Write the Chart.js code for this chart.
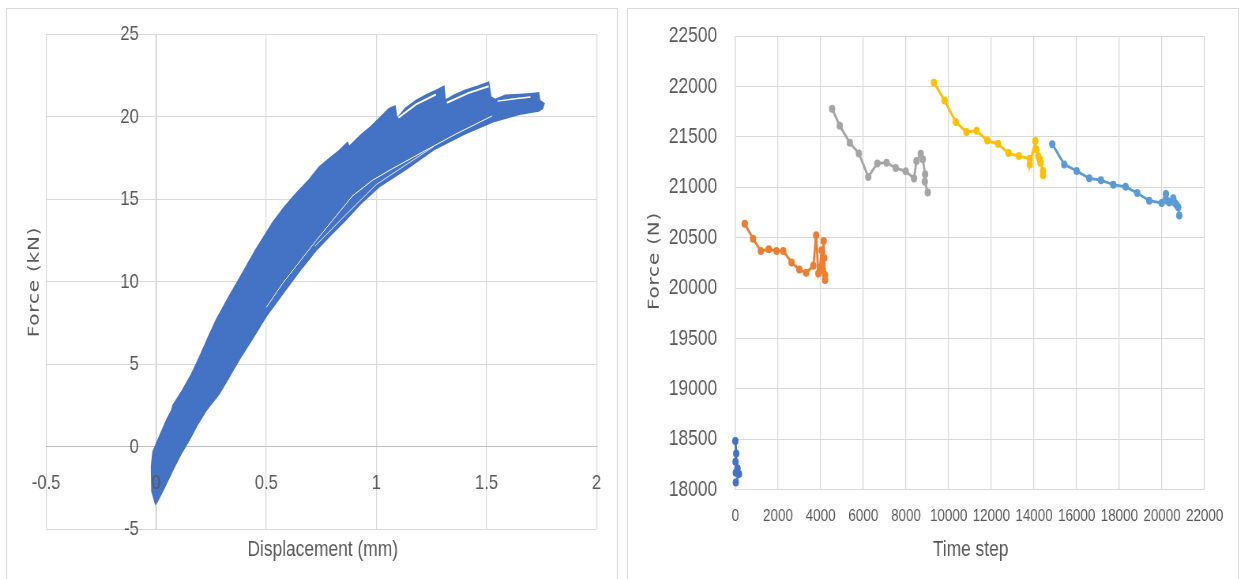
<!DOCTYPE html>
<html>
<head>
<meta charset="utf-8">
<script src="https://cdn.jsdelivr.net/npm/chart.js@4.4.1/dist/chart.umd.min.js"></script>
<style>
  html, body { margin: 0; padding: 0; background: #fff; width: 1239px; height: 579px; overflow: hidden; position: relative; }
  .panel { position: absolute; border: 1px solid #d9d9d9; box-sizing: border-box; }
  #panelLeft { left: 6px; top: 8px; width: 612px; height: 590px; }
  #panelRight { left: 627px; top: 8px; width: 612px; height: 590px; }
  /* both charts are laid out wide and squeezed horizontally */
  canvas { position: absolute; top: 0; transform-origin: 0 0; transform: scaleX(0.79); }
  #loadCurve { left: 0; }
  #peakForce { left: 620px; }
</style>
</head>
<body>
<div class="panel" id="panelLeft"></div>
<div class="panel" id="panelRight"></div>
<canvas id="loadCurve" width="785" height="579"></canvas>
<canvas id="peakForce" width="784" height="579"></canvas>
<script>
// ---- Left chart: cyclic force-displacement band (outline of all cycles) ----
const dispTicks = [-0.5, 0, 0.5, 1, 1.5, 2];
const forceKnTicks = [-5, 0, 5, 10, 15, 20, 25];

// outline of the overlapping loading cycles [displacement mm, force kN]
const bandOutline = [
  [-0.003, -3.5], [-0.02, -2.7], [-0.022, -1.2], [-0.015, -0.3], [0.02, 0.8],
  [0.05, 1.7], [0.07, 2.2], [0.075, 2.5], [0.12, 3.45], [0.16, 4.4],
  [0.197, 5.45], [0.235, 6.6], [0.273, 7.7], [0.33, 9.1], [0.378, 10.2],
  [0.45, 11.9], [0.529, 13.6], [0.58, 14.5], [0.635, 15.35], [0.695, 16.2],
  [0.74, 16.95], [0.78, 17.4], [0.831, 17.95], [0.869, 18.45], [0.876, 18.2],
  [0.93, 18.9], [0.975, 19.4], [1.02, 20.0], [1.057, 20.5], [1.085, 20.65],
  [1.093, 19.9], [1.13, 20.5], [1.18, 21.0], [1.23, 21.35], [1.27, 21.6],
  [1.307, 21.85], [1.313, 21.0], [1.35, 21.3], [1.40, 21.6], [1.46, 21.85],
  [1.51, 22.1], [1.52, 21.2], [1.54, 21.05], [1.586, 21.3], [1.65, 21.35],
  [1.70, 21.4], [1.737, 21.45], [1.742, 21.0], [1.762, 20.8], [1.755, 20.5],
  [1.737, 20.35], [1.65, 20.15], [1.53, 19.7], [1.40, 18.95], [1.26, 18.0],
  [1.133, 16.8], [1.012, 15.75], [0.93, 14.75], [0.861, 13.75], [0.79, 12.8],
  [0.726, 11.9], [0.66, 10.8], [0.59, 9.55], [0.499, 7.9], [0.44, 6.6],
  [0.378, 5.3], [0.33, 4.2], [0.288, 3.25], [0.227, 2.2], [0.19, 1.4],
  [0.152, 0.45], [0.11, -0.5], [0.076, -1.4], [0.04, -2.4], [0.01, -3.2],
  [-0.003, -3.5]
];

// thin gaps between neighbouring cycles
const gapLower = [[0.50, 8.45], [0.574, 9.9], [0.726, 12.5], [0.891, 15.2], [0.982, 16.15],
  [1.072, 16.85], [1.208, 17.85], [1.36, 18.95], [1.45, 19.55], [1.525, 20.05]];
const gapLowerInner = [[0.72, 12.15], [0.86, 14.05], [1.0, 15.9], [1.13, 17.05], [1.26, 18.2]];
const gapPeak2 = [[1.10, 19.95], [1.18, 20.75], [1.27, 21.35]];
const gapPeak3 = [[1.32, 20.85], [1.42, 21.45], [1.51, 21.85]];
const gapPeak4 = [[1.55, 20.95], [1.63, 21.1], [1.70, 21.2]];

// ---- Right chart: peak force per stage against time step ----
const stepTicks = [0, 2000, 4000, 6000, 8000, 10000, 12000, 14000, 16000, 18000, 20000, 22000];
const forceNTicks = [18000, 18500, 19000, 19500, 20000, 20500, 21000, 21500, 22000, 22500];

const stage1 = [[0, 18484], [40, 18360], [10, 18277], [100, 18212], [20, 18169], [170, 18156], [20, 18071]];
const stage2 = [[440, 20638], [830, 20490], [1195, 20369], [1570, 20386], [1930, 20369], [2245, 20369],
  [2635, 20254], [3000, 20185], [3315, 20153], [3655, 20221], [3785, 20524], [3890, 20146],
  [3960, 20200], [4045, 20376], [4095, 20180], [4140, 20467], [4165, 20300], [4205, 20130], [4205, 20081]];
const stage3 = [[4535, 21780], [4895, 21612], [5365, 21442], [5790, 21337], [6230, 21104], [6655, 21238],
  [7090, 21245], [7515, 21193], [7985, 21159], [8375, 21088], [8490, 21262], [8690, 21334],
  [8785, 21278], [8895, 21130], [8880, 21055], [9020, 20950]];
const stage4 = [[9310, 22039], [9810, 21862], [10330, 21649], [10830, 21550], [11310, 21563], [11810, 21464],
  [12310, 21432], [12800, 21340], [13290, 21311], [13800, 21284], [13800, 21228], [14060, 21459],
  [14110, 21376], [14200, 21310], [14270, 21278], [14300, 21245], [14420, 21163], [14420, 21120]];
const stage5 = [[14855, 21429], [15417, 21228], [15998, 21163], [16589, 21090], [17137, 21071], [17713, 21026],
  [18294, 21006], [18838, 20943], [19400, 20868], [19981, 20845], [20183, 20933], [20244, 20868],
  [20338, 20851], [20525, 20891], [20605, 20845], [20684, 20825], [20759, 20802], [20806, 20720]];

const seriesColors = ['#4472C4', '#ED7D31', '#A5A5A5', '#FFC000', '#5B9BD5'];

const SANS = "'Liberation Sans', Arial, sans-serif";
const TEXT = '#595959';
const GRID = '#d9d9d9';
const ZERO_LINE = '#bfbfbf';
const VLINE = 1 / 0.79;   // keeps vertical lines about one pixel wide after the squeeze

const toXY = pairs => pairs.map(p => ({ x: p[0], y: p[1] }));

// draws the axis titles at fixed spots around the plot area
const axisTitles = {
  id: 'axisTitles',
  afterDraw(chart, args, opts) {
    const ctx = chart.ctx;
    (opts.items || []).forEach(t => {
      ctx.save();
      ctx.font = t.font;
      ctx.fillStyle = TEXT;
      ctx.textAlign = 'center';
      ctx.textBaseline = 'middle';
      if ('letterSpacing' in ctx) ctx.letterSpacing = t.spacing || '0px';
      ctx.translate(t.x, t.y);
      if (t.rotate) ctx.rotate(t.rotate);
      ctx.fillText(t.text, 0, 0);
      ctx.restore();
    });
  }
};

const tickFont = size => ({ family: SANS, size: size });
const TITLE_FONT = "22px " + SANS;
const Y_TITLE_FONT = "20px 'DejaVu Sans', sans-serif";
const zeroAware = ctx => (ctx.tick && ctx.tick.value === 0 ? ZERO_LINE : GRID);

function gapLine(pairs, width) {
  return { data: toXY(pairs), borderColor: '#ffffff', borderWidth: width, pointRadius: 0, fill: false, order: 0 };
}

new Chart(document.getElementById('loadCurve'), {
  type: 'line',
  data: {
    datasets: [
      gapLine(gapLower, 1),
      gapLine(gapLowerInner, 0.8),
      gapLine(gapPeak2, 2),
      gapLine(gapPeak3, 2),
      gapLine(gapPeak4, 1.5),
      {
        data: toXY(bandOutline),
        borderColor: seriesColors[0],
        backgroundColor: seriesColors[0],
        borderWidth: 1.5,
        pointRadius: 0,
        fill: 'shape',
        order: 5
      }
    ]
  },
  options: {
    responsive: false,
    animation: false,
    events: [],
    layout: { padding: { left: 58.35, right: 27.9, top: 34.3, bottom: 49.7 } },
    plugins: {
      legend: { display: false },
      tooltip: { enabled: false },
      axisTitles: {
        items: [
          { text: 'Displacement (mm)', x: 408.5, y: 550, font: TITLE_FONT },
          { text: 'Force (kN)', x: 43.3, y: 282, rotate: -Math.PI / 2, font: Y_TITLE_FONT, spacing: '0.8px' }
        ]
      }
    },
    scales: {
      x: {
        type: 'linear', min: dispTicks[0], max: dispTicks[dispTicks.length - 1],
        position: { y: 0 },
        afterBuildTicks: s => { s.ticks = dispTicks.map(v => ({ value: v })); },
        ticks: { color: TEXT, font: tickFont(21), padding: 24, z: 1, callback: v => String(v) },
        grid: { color: zeroAware, lineWidth: VLINE, drawTicks: false },
        border: { color: ZERO_LINE }
      },
      y: {
        type: 'linear', min: forceKnTicks[0], max: forceKnTicks[forceKnTicks.length - 1],
        // labels sit just left of the zero displacement line
        position: { x: -0.079 },
        afterBuildTicks: s => { s.ticks = forceKnTicks.map(v => ({ value: v })); },
        ticks: { color: TEXT, font: tickFont(21), padding: 0, callback: v => String(v) },
        grid: { color: zeroAware, drawTicks: false },
        border: { display: false }
      }
    }
  },
  plugins: [axisTitles]
});

const stages = [stage1, stage2, stage3, stage4, stage5];

new Chart(document.getElementById('peakForce'), {
  type: 'line',
  data: {
    datasets: stages.map((s, i) => ({
      label: 'Series' + (i + 1),
      data: toXY(s),
      borderColor: seriesColors[i],
      backgroundColor: seriesColors[i],
      pointBackgroundColor: seriesColors[i],
      pointBorderWidth: 0,
      pointRadius: 4,
      borderWidth: 2.8,
      fill: false,
      clip: false
    }))
  },
  options: {
    responsive: false,
    animation: false,
    events: [],
    layout: { padding: { left: 0, right: 43.9, top: 32.5, bottom: 0 } },
    plugins: {
      legend: { display: false },
      tooltip: { enabled: false },
      axisTitles: {
        items: [
          { text: 'Time step', x: 443.8, y: 550, font: TITLE_FONT },
          { text: 'Force (N)', x: 43.7, y: 261, rotate: -Math.PI / 2, font: Y_TITLE_FONT, spacing: '0.8px' }
        ]
      }
    },
    scales: {
      x: {
        type: 'linear', min: stepTicks[0], max: stepTicks[stepTicks.length - 1],
        afterBuildTicks: s => { s.ticks = stepTicks.map(v => ({ value: v })); },
        afterFit: s => { s.height = 89.3; },
        ticks: { color: TEXT, font: tickFont(17), padding: 16, maxRotation: 0, autoSkip: false, callback: v => String(v) },
        grid: { color: GRID, lineWidth: VLINE, drawTicks: false },
        border: { color: GRID }
      },
      y: {
        type: 'linear', min: forceNTicks[0], max: forceNTicks[forceNTicks.length - 1],
        afterBuildTicks: s => { s.ticks = forceNTicks.map(v => ({ value: v })); },
        afterFit: s => { s.width = 146; },
        ticks: { color: TEXT, font: tickFont(22), padding: 23, autoSkip: false, callback: v => String(v) },
        grid: { color: GRID, drawTicks: false },
        border: { color: GRID, width: VLINE }
      }
    }
  },
  plugins: [axisTitles]
});
</script>
</body>
</html>
